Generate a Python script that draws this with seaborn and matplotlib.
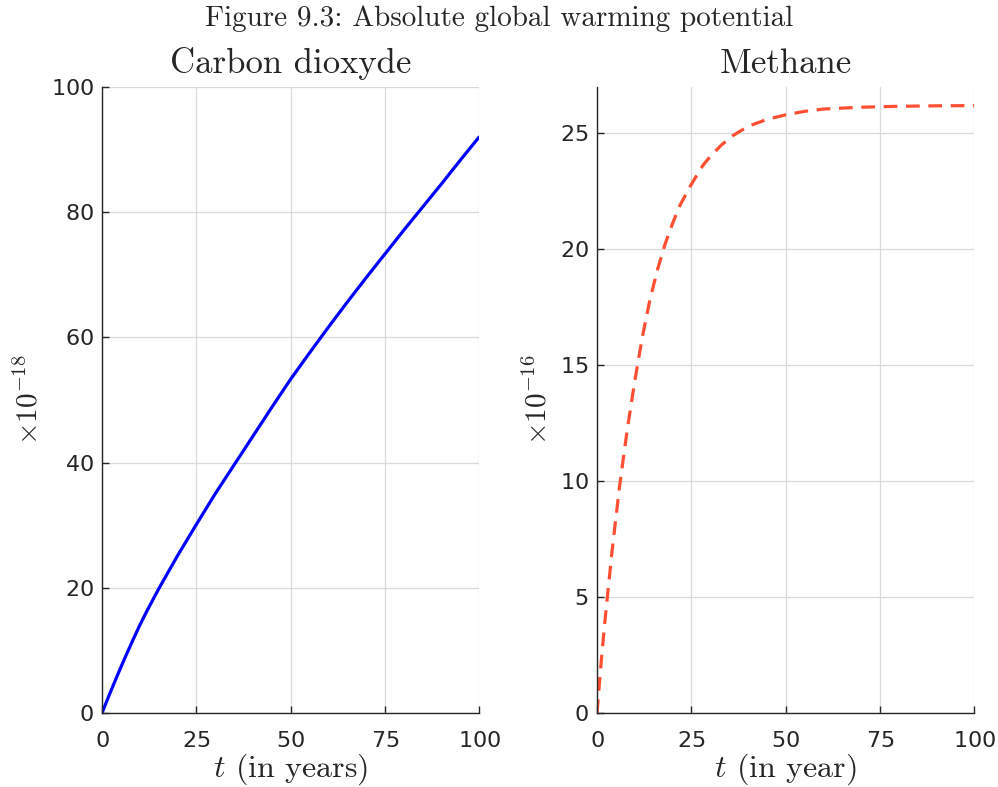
import matplotlib
matplotlib.use("Agg")
import matplotlib.pyplot as plt
import seaborn as sns

# values (units of 1e-18 and 1e-16)
co2_years = [0, 2, 4, 6, 8, 10, 12, 15, 20, 25, 30, 35, 40, 45, 50,
             55, 60, 65, 70, 75, 80, 85, 90, 95, 100]
co2_agwp = [0, 3.0, 5.9, 8.7, 11.4, 14.0, 16.4, 19.8, 25.1, 30.1, 35.0,
            39.6, 44.2, 48.8, 53.3, 57.5, 61.6, 65.6, 69.5, 73.3, 77.1, 80.8,
            84.5, 88.3, 92.0]

ch4_years = [0, 1, 2, 3, 4, 5, 6, 8, 10, 12, 14, 16, 18, 20, 22, 25, 28, 30,
             33, 36, 40, 45, 50, 55, 60, 70, 80, 90, 100]
ch4_agwp = [0, 2.0, 3.8, 5.4, 7.0, 8.4, 9.8, 12.2, 14.3, 16.2, 17.8, 19.1,
            20.2, 21.1, 21.9, 22.8, 23.6, 24.0, 24.5, 24.9, 25.3, 25.6, 25.8,
            25.95, 26.05, 26.13, 26.17, 26.19, 26.2]

x_ticks = [0, 25, 50, 75, 100]
co2_ticks = [0, 20, 40, 60, 80, 100]
ch4_ticks = [0, 5, 10, 15, 20, 25]

sns.set_theme(style="whitegrid")
plt.rcParams["font.family"] = ["DejaVu Sans"]
plt.rcParams["mathtext.fontset"] = "cm"
plt.rcParams["axes.formatter.use_mathtext"] = True

serif = "cmr10"
fig = plt.figure(figsize=(9.98, 7.87), dpi=100)
ax1 = fig.add_axes([0.1022, 0.094, 0.3778, 0.7954])
ax2 = fig.add_axes([0.5982, 0.094, 0.3778, 0.7954])

sns.lineplot(x=co2_years, y=co2_agwp, ax=ax1, color="#0000ff", linewidth=2.3)
sns.lineplot(x=ch4_years, y=ch4_agwp, ax=ax2, color="#ff4f33", linewidth=2.3,
             linestyle=(0, (4.3, 2.7)))

for ax, ticks, ylim, title, xlab, ylab in [
        (ax1, co2_ticks, (0, 100), "Carbon dioxyde", r"$t$ (in years)", r"$\times 10^{-18}$"),
        (ax2, ch4_ticks, (0, 27), "Methane", r"$t$ (in year)", r"$\times 10^{-16}$")]:
    ax.set_xlim(0, 100)
    ax.set_ylim(*ylim)
    ax.set_xticks(x_ticks)
    ax.set_yticks(ticks)
    ax.grid(True, color="#d9d9d9", linewidth=0.9)
    for side in ["top", "right"]:
        ax.spines[side].set_visible(False)
    for side in ["left", "bottom"]:
        ax.spines[side].set_color("#262626")
        ax.spines[side].set_linewidth(1.0)
    ax.tick_params(direction="in", length=5, width=1.0, colors="#262626",
                   labelsize=16, labelcolor="#262626", bottom=True, left=True)
    ax.tick_params(axis="x", pad=13)
    ax.tick_params(axis="y", pad=6)
    ax.set_title(title, fontsize=25, family=serif, pad=10)
    ax.set_xlabel(xlab, fontsize=23, family=serif, labelpad=0)
    ax.set_ylabel(ylab, fontsize=21, labelpad=5)

fig.suptitle("Figure 9.3: Absolute global warming potential", fontsize=21,
             family=serif, y=0.993)

fig.savefig("out.png", dpi=100)
